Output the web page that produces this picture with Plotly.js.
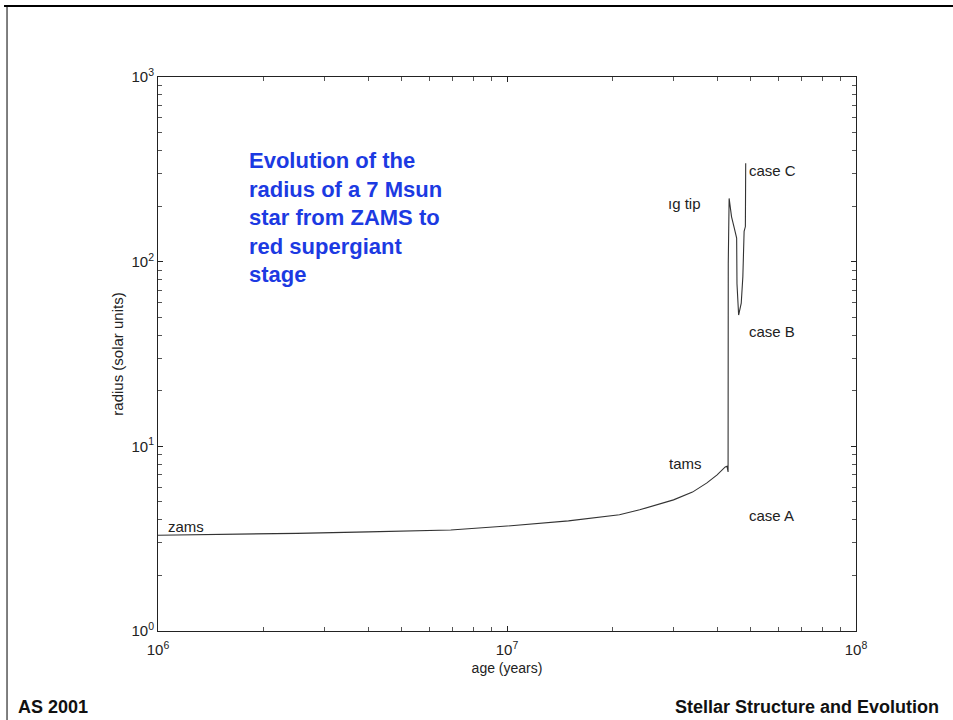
<!DOCTYPE html>
<html>
<head>
<meta charset="utf-8">
<script src="https://cdn.plot.ly/plotly-3.0.1.min.js"></script>
<style>
html,body{margin:0;padding:0;background:#fff;}
#chart{width:953px;height:720px;}
</style>
</head>
<body>
<div id="chart"></div>
<script>
// ---- data ----
var ageYears = [1.0e6, 1.5e6, 2.5e6, 4.0e6, 6.9e6, 1.0e7, 1.5e7, 2.1e7, 2.4e7, 3.0e7, 3.4e7, 3.74e7, 4.0e7, 4.22e7, 4.27e7, 4.30e7, 4.305e7, 4.33e7, 4.40e7, 4.48e7, 4.55e7, 4.56e7, 4.59e7, 4.61e7, 4.69e7, 4.74e7, 4.78e7, 4.82e7, 4.83e7];
var radiusSolar = [3.30, 3.33, 3.38, 3.44, 3.52, 3.70, 3.95, 4.26, 4.53, 5.13, 5.65, 6.34, 7.0, 7.73, 7.8, 7.26, 98, 220, 175, 152, 134, 76, 57, 51.4, 59.6, 83, 146, 155, 341];

var xTickVals = [1e6, 1e7, 1e8];
var xTickText = ['10<sup>6</sup>', '10<sup>7</sup>', '10<sup>8</sup>'];
var yTickVals = [1, 10, 100, 1000];
var yTickText = ['10<sup>0</sup>', '10<sup>1</sup>', '10<sup>2</sup>', '10<sup>3</sup>'];

var stageLabels = ['zams', 'tams', 'case A', 'case B', 'case C', 'ıg tip'];
var noteText = 'Evolution of the<br>radius of a 7 Msun<br>star from ZAMS to<br>red supergiant<br>stage';
var footerLeft = 'AS 2001';
var footerRight = 'Stellar Structure and Evolution';
var xTitle = 'age (years)';
var yTitle = 'radius (solar units)';

// minor tick helper (2..9 within each decade)
function minorTicks(lo, hi) {
  var out = [];
  for (var d = lo; d < hi; d++) {
    for (var k = 2; k <= 9; k++) out.push(k * Math.pow(10, d));
  }
  return out;
}

var FONT = 'Liberation Sans, Arial, Helvetica, sans-serif';
var axisColor = '#222';

var trace = {
  x: ageYears,
  y: radiusSolar,
  type: 'scatter',
  mode: 'lines',
  line: {color: '#333', width: 1.1},
  hoverinfo: 'skip'
};

// label positions (paper coords) [x, y]
var labelPos = [[0.012, 0.188], [0.729, 0.303], [0.844, 0.208], [0.844, 0.5415], [0.844, 0.832], [0.728, 0.771]];
var annotations = stageLabels.map(function (t, i) {
  return {
    text: t, xref: 'paper', yref: 'paper', x: labelPos[i][0], y: labelPos[i][1],
    xanchor: 'left', yanchor: 'middle', showarrow: false,
    font: {family: FONT, size: 15, color: '#222'}
  };
});
annotations.push({
  text: noteText, xref: 'paper', yref: 'paper', x: 0.127, y: 0.876,
  xanchor: 'left', yanchor: 'top', align: 'left', showarrow: false,
  font: {family: FONT, size: 22, color: '#1c3ae2', weight: 'bold'}
});
annotations.push({
  text: '<b>' + footerLeft + '</b>', xref: 'paper', yref: 'paper', x: -0.203, y: -0.137,
  xanchor: 'left', yanchor: 'middle', showarrow: false,
  font: {family: FONT, size: 18, color: '#111'}
});
annotations.push({
  text: '<b>' + footerRight + '</b>', xref: 'paper', yref: 'paper', x: 1.122, y: -0.137,
  xanchor: 'right', yanchor: 'middle', showarrow: false,
  font: {family: FONT, size: 18, color: '#111'}
});

var layout = {
  width: 953, height: 720,
  margin: {l: 158, r: 97, t: 77, b: 89},
  paper_bgcolor: '#fff', plot_bgcolor: '#fff',
  showlegend: false,
  font: {family: FONT, color: axisColor},
  xaxis: {
    type: 'log', range: [6, 8],
    tickmode: 'array', tickvals: xTickVals, ticktext: xTickText,
    ticks: 'inside', ticklen: 5, tickcolor: axisColor, tickwidth: 1,
    minor: {tickmode: 'array', tickvals: minorTicks(6, 8), ticks: 'inside', ticklen: 4, tickcolor: '#555'},
    showline: true, linecolor: axisColor, linewidth: 1, mirror: 'ticks',
    showgrid: false, zeroline: false,
    ticklabelstandoff: 5,
    tickfont: {family: FONT, size: 15, color: axisColor},
    title: {text: xTitle, font: {family: FONT, size: 14, color: axisColor}, standoff: 6}
  },
  yaxis: {
    type: 'log', range: [0, 3],
    tickmode: 'array', tickvals: yTickVals, ticktext: yTickText,
    ticks: 'inside', ticklen: 5, tickcolor: axisColor, tickwidth: 1,
    minor: {tickmode: 'array', tickvals: minorTicks(0, 3), ticks: 'inside', ticklen: 4, tickcolor: '#555'},
    showline: true, linecolor: axisColor, linewidth: 1, mirror: 'ticks',
    showgrid: false, zeroline: false,
    tickfont: {family: FONT, size: 15, color: axisColor},
    title: {text: yTitle, font: {family: FONT, size: 15, color: axisColor}, standoff: 4}
  },
  annotations: annotations,
  shapes: [
    {type: 'line', xref: 'paper', yref: 'paper', x0: -0.2206, x1: 1.14, y0: 1.128, y1: 1.128, line: {color: '#000', width: 2}},
    {type: 'line', xref: 'paper', yref: 'paper', x0: -0.2163, x1: -0.2163, y0: 1.128, y1: -0.17, line: {color: '#000', width: 1}}
  ]
};

Plotly.newPlot('chart', [trace], layout, {displayModeBar: false, staticPlot: true});
</script>
</body>
</html>
